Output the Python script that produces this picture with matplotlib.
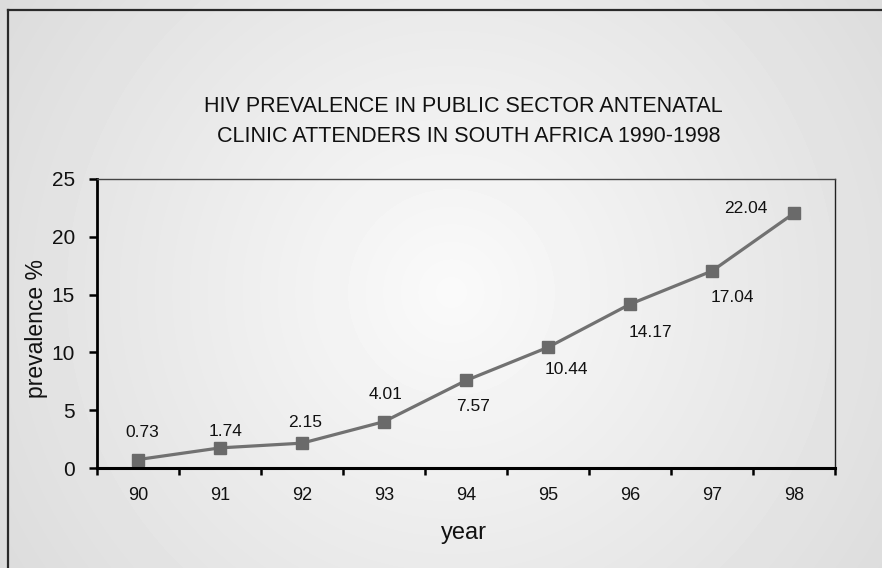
"""HIV prevalence among public sector antenatal clinic attenders, South Africa."""

import matplotlib

matplotlib.use("Agg")
import matplotlib.pyplot as plt
import numpy as np
from matplotlib.lines import Line2D

YEARS = ["90", "91", "92", "93", "94", "95", "96", "97", "98"]
PREVALENCE = [0.73, 1.74, 2.15, 4.01, 7.57, 10.44, 14.17, 17.04, 22.04]
VALUE_LABELS = ["0.73", "1.74", "2.15", "4.01", "7.57", "10.44", "14.17", "17.04", "22.04"]
Y_TICKS = [0, 5, 10, 15, 20, 25]

# label placement relative to its marker, in pixels (x right, y up)
LABEL_OFFSETS = [(4, 27), (6, 16), (3, 21), (2, 27), (7, -26), (18, -22), (20, -28), (20, -26), (-48, 5)]

FONT = ["Liberation Sans Narrow", "Liberation Sans", "DejaVu Sans"]
LINE_GREY = "#717171"
INK = "#111111"

W, H = 882, 568

plt.rcParams["font.family"] = FONT

fig = plt.figure(figsize=(W / 100, H / 100), dpi=100)

# radial backdrop, bright centre fading to pale grey
bg = fig.add_axes([0, 0, 1, 1], zorder=-10)
yy, xx = np.mgrid[0:H, 0:W]
r = np.hypot(xx - 451, yy - 292) / 540.0
shade = np.clip(0.98 - 0.12 * r, 0, 1)
bg.imshow(shade, cmap="gray", vmin=0, vmax=1, aspect="auto", interpolation="bilinear")
bg.set_axis_off()

# frame: only top and left edges fall inside the image
fig.add_artist(Line2D([8 / W, 8 / W], [0, 1 - 10 / H], color="#2a2a2a", linewidth=1.6))
fig.add_artist(Line2D([8 / W, 1], [1 - 10 / H, 1 - 10 / H], color="#2a2a2a", linewidth=1.6))

ax = fig.add_axes([97 / W, 1 - 468 / H, (835 - 97) / W, (468 - 179) / H])
ax.patch.set_alpha(0)

x = np.arange(len(YEARS))
ax.plot(x, PREVALENCE, color=LINE_GREY, linewidth=2.3, marker="s", markersize=8.5,
        markerfacecolor="#6a6a6a", markeredgecolor="#6a6a6a", clip_on=False)

for xi, yi, txt, (dx, dy) in zip(x, PREVALENCE, VALUE_LABELS, LABEL_OFFSETS):
    ax.annotate(txt, xy=(xi, yi), xytext=(dx, dy), textcoords="offset pixels",
                ha="center", va="center", fontsize=12.5, color=INK)

ax.set_xlim(-0.5, len(YEARS) - 0.5)
ax.set_ylim(0, 25)

ax.set_xticks(np.arange(len(YEARS) + 1) - 0.5)
ax.set_xticklabels([])
ax.set_xticks(x, minor=True)
ax.set_xticklabels(YEARS, minor=True)
ax.tick_params(axis="x", which="major", length=5, width=1.8, color="black", direction="out")
ax.tick_params(axis="x", which="minor", length=0, pad=14, labelsize=13, labelcolor=INK)

ax.set_yticks(Y_TICKS)
ax.tick_params(axis="y", length=6, width=1.8, color="black", pad=10, labelsize=15, labelcolor=INK)

ax.spines["left"].set_linewidth(2.0)
ax.spines["bottom"].set_linewidth(2.2)
ax.spines["left"].set_color("black")
ax.spines["bottom"].set_color("black")
ax.spines["top"].set_linewidth(1.0)
ax.spines["right"].set_linewidth(1.0)
ax.spines["top"].set_color("#444444")
ax.spines["right"].set_color("#222222")

fig.text(463 / W, 1 - 107 / H, "HIV PREVALENCE IN PUBLIC SECTOR ANTENATAL",
         ha="center", va="center", fontsize=15.5, color=INK)
fig.text(469 / W, 1 - 136 / H, "CLINIC ATTENDERS IN SOUTH AFRICA 1990-1998",
         ha="center", va="center", fontsize=15.5, color=INK)

fig.text(36 / W, 1 - 328 / H, "prevalence %", rotation=90, ha="center", va="center",
         fontsize=16.5, color=INK)
fig.text(464 / W, 1 - 533 / H, "year", ha="center", va="center", fontsize=17, color=INK)

fig.savefig("out.png", dpi=100)
